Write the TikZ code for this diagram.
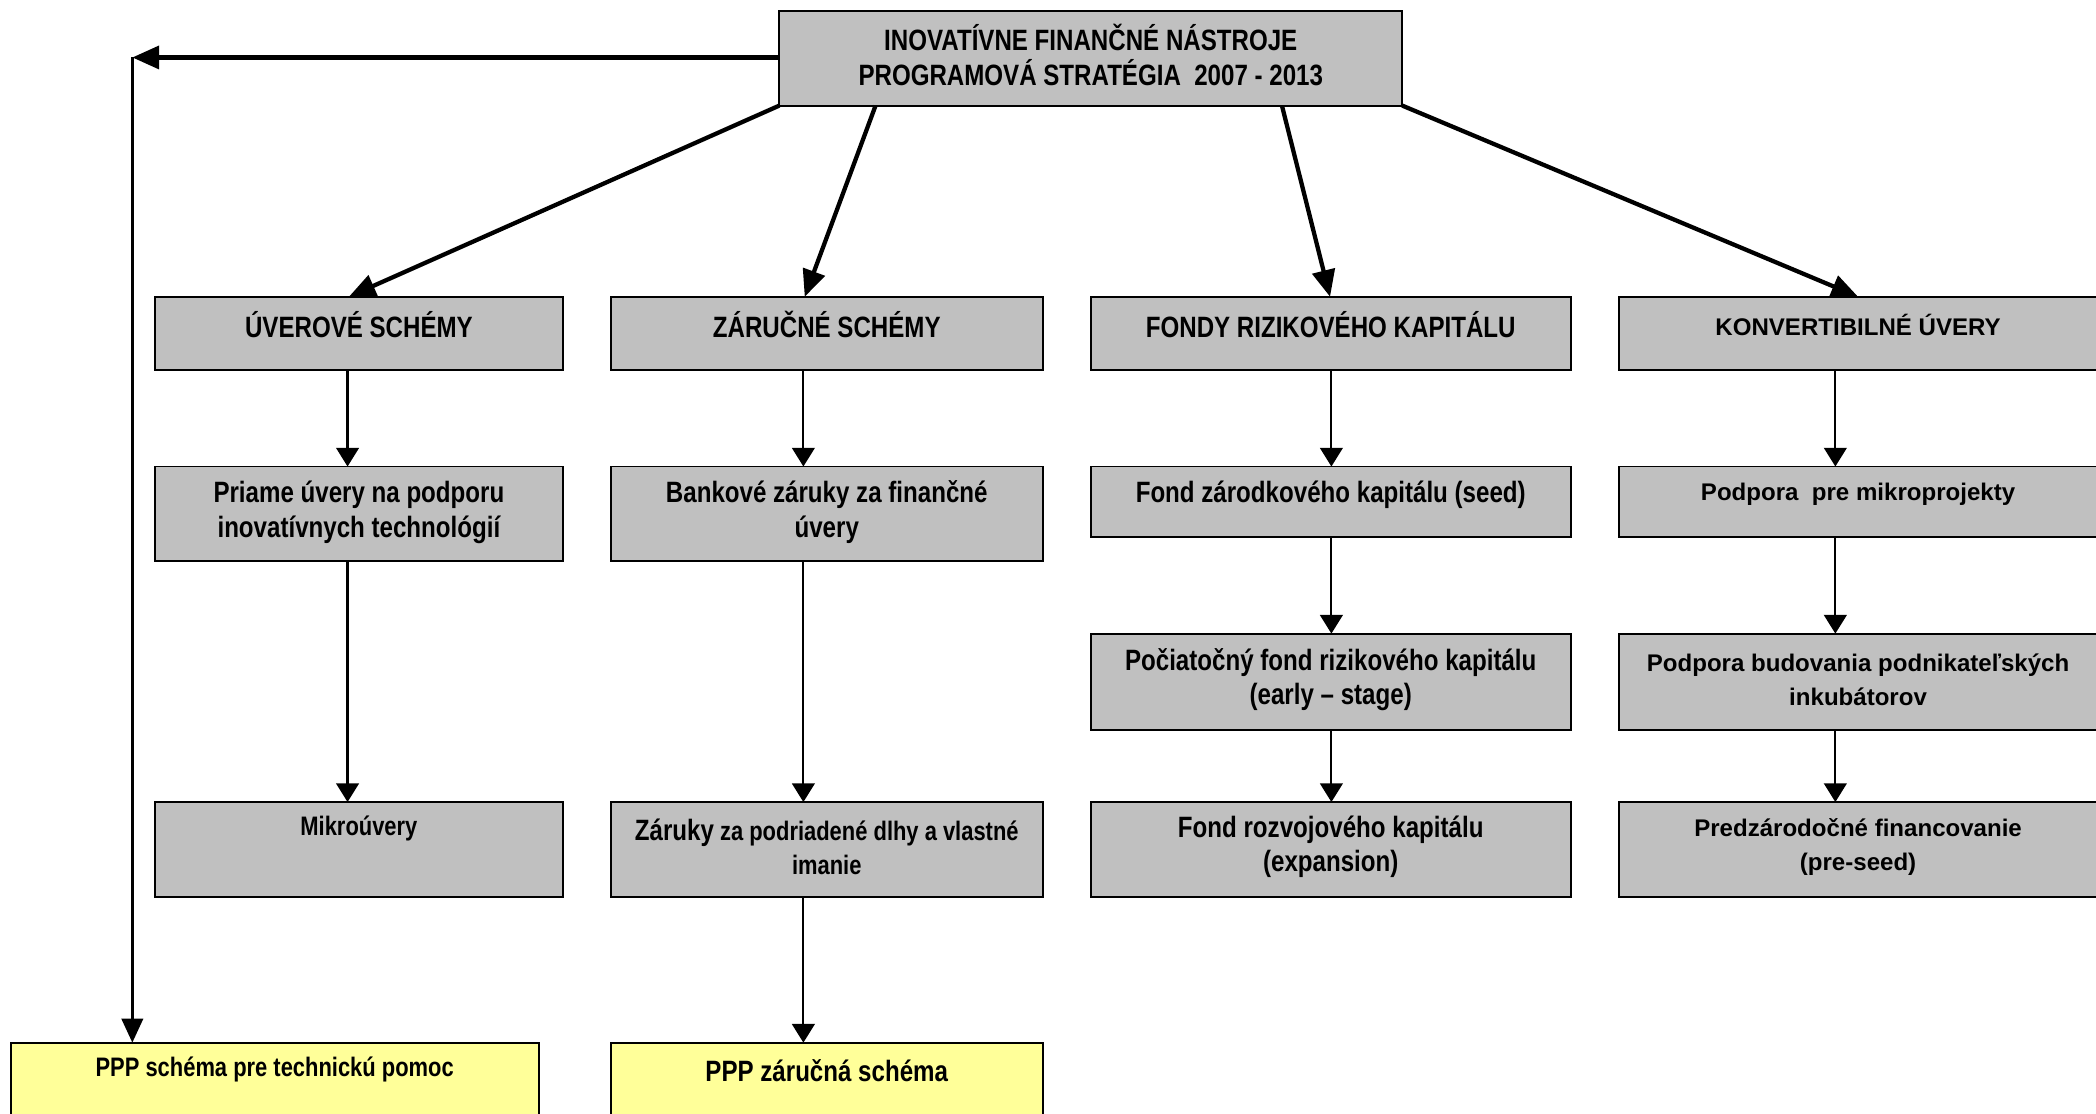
\documentclass[tikz,border=0pt]{standalone}
\usepackage{fontspec}
\usetikzlibrary{arrows.meta}
\newfontfamily\nar[FakeStretch=0.82]{Liberation Sans}
\newfontfamily\reg{Liberation Sans}
\definecolor{boxgray}{HTML}{C0C0C0}
\definecolor{boxyellow}{HTML}{FFFF99}
\newcommand\bx[6]{%
  \node[#6, minimum width={(#4-#2)*0.5pt}, minimum height={(#5-#3)*0.5pt}] (#1) at ({(#2+#4)/2},{(#3+#5)/2}) {};}
\tikzset{
  gbox/.style={draw=black, line width=0.7pt, fill=boxgray, inner sep=0pt, outer sep=0pt, rectangle},
  ybox/.style={draw=black, line width=0.7pt, fill=boxyellow, inner sep=0pt, outer sep=0pt, rectangle},
  nt/.style={align=center, inner sep=0pt, font=\nar\bfseries\fontsize{11}{13}\selectfont},
  nts/.style={align=center, inner sep=0pt, font=\nar\bfseries\fontsize{10}{12.5}\selectfont},
  rt/.style={align=center, inner sep=0pt, font=\reg\bfseries\fontsize{9}{12.5}\selectfont},
  thinarr/.style={line width=0.8pt, -{Triangle[length=7pt,width=8.5pt]}},
  thickarr/.style={line width=1.6pt, -{Triangle[length=10pt,width=8.5pt]}},
  leftarr/.style={line width=1.1pt, -{Triangle[length=9pt,width=8pt]}}
}
\begin{document}
\begin{tikzpicture}[x=0.5pt,y=-0.5pt]
\useasboundingbox (0,0) rectangle (1568,833);
\clip (0,0) rectangle (1568,833);
% boxes
\bx{T}{583}{8}{1049}{79}{gbox}
\bx{A1}{116}{222}{421}{277}{gbox}
\bx{B1}{457}{222}{780}{277}{gbox}
\bx{C1}{816}{222}{1175}{277}{gbox}
\bx{D1}{1211}{222}{1569}{277}{gbox}
\bx{A2}{116}{349}{421}{420}{gbox}
\bx{B2}{457}{349}{780}{420}{gbox}
\bx{C2}{816}{349}{1175}{402}{gbox}
\bx{D2}{1211}{349}{1569}{402}{gbox}
\bx{C3}{816}{474}{1175}{546}{gbox}
\bx{D3}{1211}{474}{1569}{546}{gbox}
\bx{A4}{116}{600}{421}{671}{gbox}
\bx{B4}{457}{600}{780}{671}{gbox}
\bx{C4}{816}{600}{1175}{671}{gbox}
\bx{D4}{1211}{600}{1569}{671}{gbox}
\bx{P1}{8}{780}{403}{836}{ybox}
\bx{P2}{457}{780}{780}{836}{ybox}
% texts
\node[nt] (Tt) at (816,41) {INOVATÍVNE FINANČNÉ NÁSTROJE\\PROGRAMOVÁ STRATÉGIA\ \ 2007 - 2013};
\node[nt] (A1t) at (268.5,243) {ÚVEROVÉ SCHÉMY};
\node[nt] (B1t) at (618.5,243) {ZÁRUČNÉ SCHÉMY};
\node[nt] (C1t) at (995.5,243) {FONDY RIZIKOVÉHO KAPITÁLU};
\node[rt] (D1t) at (1390,243) {KONVERTIBILNÉ ÚVERY};
\node[nt] (A2t) at (268.5,383) {Priame úvery na podporu\\inovatívnych technológií};
\node[nt] (B2t) at (618.5,383) {Bankové záruky za finančné\\úvery};
\node[nt] (C2t) at (995.5,370) {Fond zárodkového kapitálu (seed)};
\node[rt] (D2t) at (1390,370) {Podpora\ \ pre mikroprojekty};
\node[nt] (C3t) at (995.5,508.5) {Počiatočný fond rizikového kapitálu\\(early – stage)};
\node[rt] (D3t) at (1390,508.5) {Podpora budovania podnikateľských\\inkubátorov};
\node[nts] (A4t) at (268.5,620) {Mikroúvery};
\node[nts] (B4t) at (618.5,633.5) {{\fontsize{11}{13}\selectfont Záruky} za podriadené dlhy a vlastné\\imanie};
\node[nt] (C4t) at (995.5,633.5) {Fond rozvojového kapitálu\\(expansion)};
\node[rt] (D4t) at (1390,633.5) {Predzárodočné financovanie\\(pre-seed)};
\node[nts] (P1t) at (205.5,800) {PPP schéma pre technickú pomoc};
\node[nt] (P2t) at (618.5,801) {PPP záručná schéma};
% connector columns
\coordinate (ax) at (260,0);
\coordinate (bx) at (601,0);
\coordinate (cx) at (996,0);
\coordinate (dx) at (1373,0);
\coordinate (lc) at (99,43);
\coordinate (ta) at (261,0);
\coordinate (sb) at (655,0);
\coordinate (tb) at (602,0);
\coordinate (sc) at (959,0);
\coordinate (tc) at (995,0);
\coordinate (td) at (1390,0);
% thick connectors from top
\draw[thickarr] (T.south west) -- (A1.north -| ta);
\draw[thickarr] (T.south -| sb) -- (B1.north -| tb);
\draw[thickarr] (T.south -| sc) -- (C1.north -| tc);
\draw[thickarr] (T.south east) -- (D1.north -| td);
\draw[thickarr] (T.west |- lc) -- (lc);
\draw[leftarr] (lc) -- (P1.north -| lc);
% thin vertical connectors
\draw[thinarr] (A1.south -| ax) -- (A2.north -| ax);
\draw[thinarr] (A2.south -| ax) -- (A4.north -| ax);
\draw[thinarr] (B1.south -| bx) -- (B2.north -| bx);
\draw[thinarr] (B2.south -| bx) -- (B4.north -| bx);
\draw[thinarr] (B4.south -| bx) -- (P2.north -| bx);
\draw[thinarr] (C1.south -| cx) -- (C2.north -| cx);
\draw[thinarr] (C2.south -| cx) -- (C3.north -| cx);
\draw[thinarr] (C3.south -| cx) -- (C4.north -| cx);
\draw[thinarr] (D1.south -| dx) -- (D2.north -| dx);
\draw[thinarr] (D2.south -| dx) -- (D3.north -| dx);
\draw[thinarr] (D3.south -| dx) -- (D4.north -| dx);
\end{tikzpicture}
\end{document}
